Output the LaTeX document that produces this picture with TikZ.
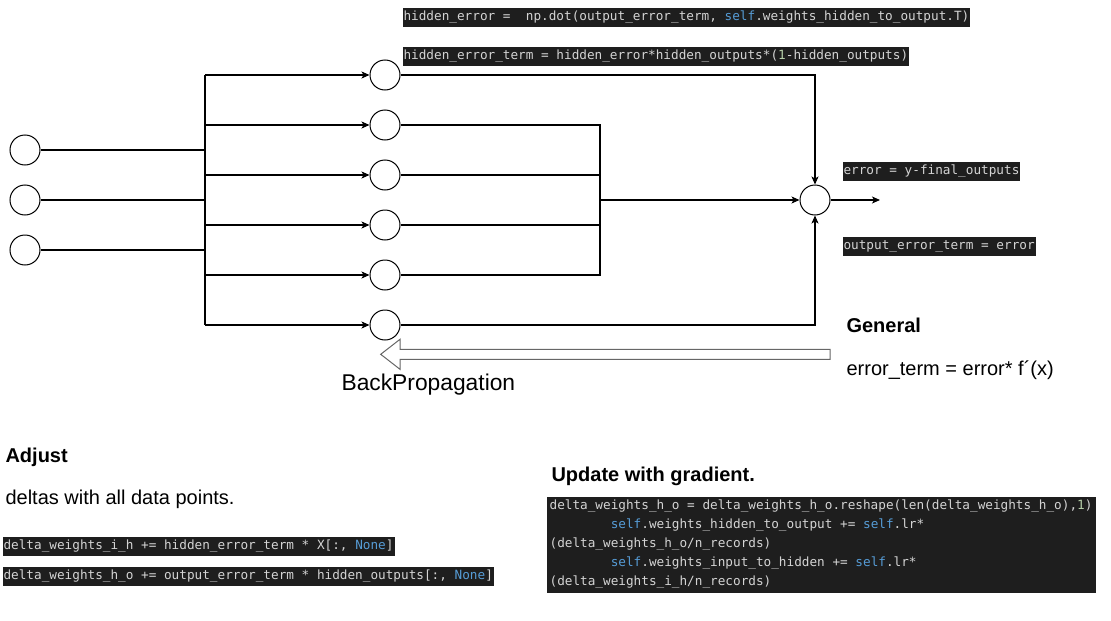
\documentclass[tikz,border=0pt]{standalone}
\usepackage{fontspec}
\setmainfont{Liberation Sans}
\newfontfamily\codefont[WordSpace={1,0,0}]{DejaVu Sans Mono}
\usetikzlibrary{arrows.meta}
\usetikzlibrary{positioning}
\definecolor{codebg}{HTML}{1E1E1E}
\definecolor{codefg}{HTML}{D4D4D4}
\definecolor{codekw}{HTML}{569CD6}
\definecolor{codenum}{HTML}{B5CEA8}
\definecolor{hollow}{HTML}{666666}
\newcommand{\kw}[1]{\textcolor{codekw}{#1}}
\newcommand{\nm}[1]{\textcolor{codenum}{#1}}
\begin{document}
\begin{tikzpicture}[x=1pt,y=1pt,line width=1.1pt]
	\tikzstyle{every node}+=[inner sep=0pt]
	\tikzstyle{neuron}=[draw,black,circle,minimum size=30pt,line width=1pt]
	\tikzstyle{link}=[-{Stealth[length=8pt,width=7pt,inset=2pt]}]
	\tikzstyle{code}=[fill=codebg,text=codefg,anchor=west,font=\codefont\fontsize{12.7}{19}\selectfont\frenchspacing,text height=10pt,text depth=3.5pt,inner xsep=1pt,inner ysep=2.75pt]
	\tikzstyle{note}=[anchor=base west,font=\fontsize{20}{24}\selectfont]
	\tikzstyle{head}=[anchor=base west,font=\fontsize{20}{24}\selectfont\bfseries]
	\useasboundingbox (0,0) rectangle (1111,-621);
	\node [neuron] (in1) at (25,-150) {};
	\node [neuron] (in2) at (25,-200) {};
	\node [neuron] (in3) at (25,-250) {};
	\node [neuron] (h1) at (385,-75) {};
	\node [neuron] (h2) at (385,-125) {};
	\node [neuron] (h3) at (385,-175) {};
	\node [neuron] (h4) at (385,-225) {};
	\node [neuron] (h5) at (385,-275) {};
	\node [neuron] (h6) at (385,-325) {};
	\node [neuron] (out) at (815,-200) {};
	\coordinate (bus) at (205,-200);
	\coordinate (merge) at (600,-200);
	\coordinate (res) at (880,-200);
	\draw [black] (in1) -- (in1 -| bus);
	\draw [black] (in2) -- (in2 -| bus);
	\draw [black] (in3) -- (in3 -| bus);
	\draw [black] (bus |- h1) -- (bus |- h6);
	\draw [black,link] (bus |- h1) -- (h1);
	\draw [black,link] (bus |- h2) -- (h2);
	\draw [black,link] (bus |- h3) -- (h3);
	\draw [black,link] (bus |- h4) -- (h4);
	\draw [black,link] (bus |- h5) -- (h5);
	\draw [black,link] (bus |- h6) -- (h6);
	\draw [black] (h2) -- (h2 -| merge) -- (h5 -| merge) -- (h5);
	\draw [black] (h3) -- (h3 -| merge);
	\draw [black] (h4) -- (h4 -| merge);
	\draw [black,link] (merge) -- (out);
	\draw [black,link] (h1) -| (out);
	\draw [black,link] (h6) -| (out);
	\draw [black,link] (out) -- (res);
	\draw [hollow,fill=white,line width=1pt] (830,-349.3) -- (400,-349.3) -- (400,-339.3) -- (380.7,-354.3) -- (400,-369.3) -- (400,-359.3) -- (830,-359.3) -- cycle;
	\node [anchor=base west,font=\fontsize{22.8}{27}\selectfont] (bp) at (341,-390) {BackPropagation};
	\node [code] (herr) at (402,-17) {hidden\_error = \ np.dot(output\_error\_term, \kw{self}.weights\_hidden\_to\_output.T)};
	\node [code] (hterm) at (402,-56.5) {hidden\_error\_term = hidden\_error*hidden\_outputs*(\nm{1}-hidden\_outputs)};
	\node [code] (err) at (842,-171) {error = y-final\_outputs};
	\node [code] (oterm) at (842,-246.5) {output\_error\_term = error};
	\node [head] (gen) at (846,-332) {General};
	\node [note] (rule) at (846,-375) {error\_term = error* f´(x)};
	\node [head] (adj) at (5,-462) {Adjust};
	\node [note] (adjtxt) at (5,-504) {deltas with all data points.};
	\node [code] (dih) at (2,-546) {delta\_weights\_i\_h += hidden\_error\_term * X[:, \kw{None}]};
	\node [code] (dho) at (2,-576) {delta\_weights\_h\_o += output\_error\_term * hidden\_outputs[:, \kw{None}]};
	\node [head] (upd) at (551,-481) {Update with gradient.};
	\node [code,anchor=north west,align=left,minimum width=549pt,minimum height=96pt,text height=,text depth=] (step) at (546,-496) {delta\_weights\_h\_o = delta\_weights\_h\_o.reshape(len(delta\_weights\_h\_o),\nm{1})\\
\hphantom{12345678}\kw{self}.weights\_hidden\_to\_output += \kw{self}.lr*\\
(delta\_weights\_h\_o/n\_records)\\
\hphantom{12345678}\kw{self}.weights\_input\_to\_hidden += \kw{self}.lr*\\
(delta\_weights\_i\_h/n\_records)};
\end{tikzpicture}
\end{document}
